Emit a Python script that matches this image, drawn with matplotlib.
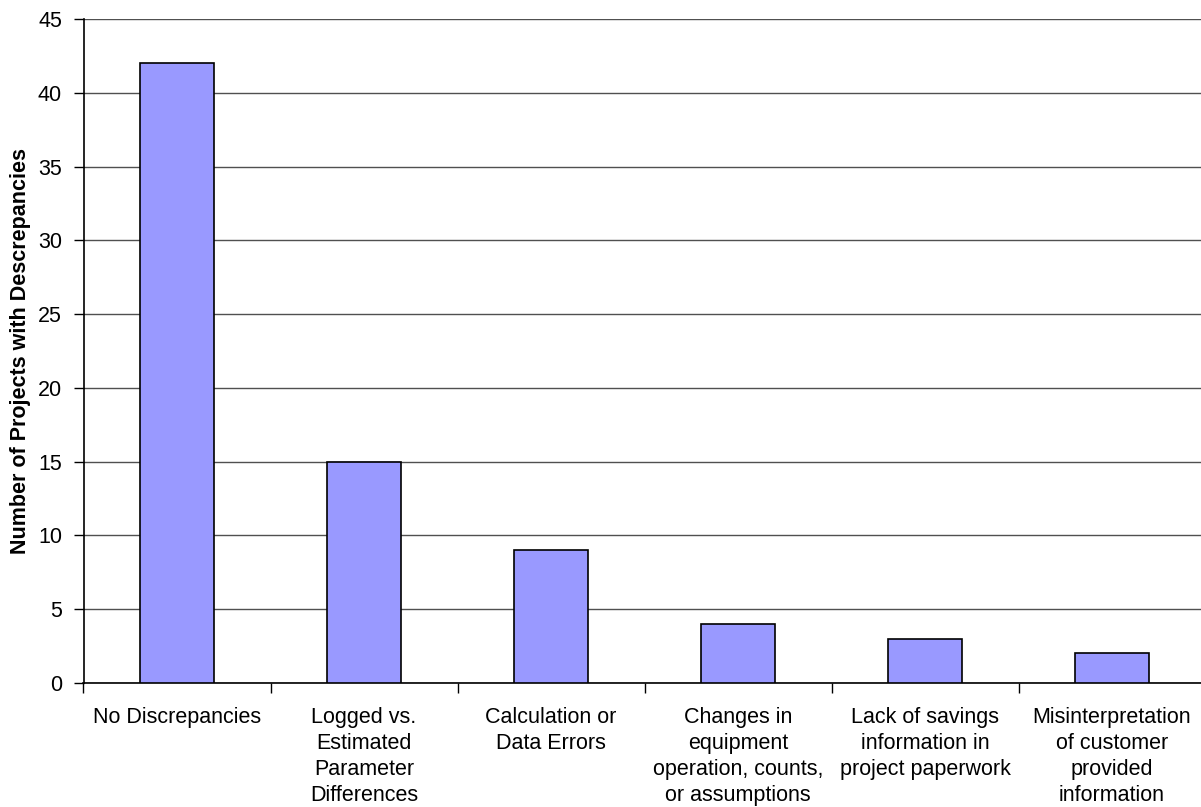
import numpy as np
import matplotlib
matplotlib.use("Agg")
import matplotlib.pyplot as plt

plt.rcParams["font.family"] = ["Liberation Sans", "DejaVu Sans"]

categories = [
    "No Discrepancies",
    "Logged vs.\nEstimated\nParameter\nDifferences",
    "Calculation or\nData Errors",
    "Changes in\nequipment\noperation, counts,\nor assumptions",
    "Lack of savings\ninformation in\nproject paperwork",
    "Misinterpretation\nof customer\nprovided\ninformation",
]
counts = [42, 15, 9, 4, 3, 2]
y_ticks = [0, 5, 10, 15, 20, 25, 30, 35, 40, 45]

fig = plt.figure(figsize=(12.01, 8.07), dpi=100)
ax = fig.add_axes([83.5 / 1201, 124 / 807, 1122 / 1201, 664 / 807])

x = np.arange(len(categories))
ax.bar(x, counts, width=0.4, color="#9999FF", edgecolor="black", linewidth=1.2, zorder=3)

ax.set_xlim(-0.5, len(categories) - 0.5)
ax.set_ylim(0, 45)
ax.set_yticks(y_ticks)
ax.yaxis.grid(True, color="#505050", linewidth=1.0, zorder=0)

# category labels centred, tick marks on the boundaries
ax.set_xticks(x)
ax.set_xticklabels(categories, fontsize=15.5, linespacing=1.32, va="top")
ax.tick_params(axis="x", which="major", length=0, pad=17)
ax.set_xticks(np.arange(len(categories) + 1) - 0.5, minor=True)
ax.tick_params(axis="x", which="minor", length=7, width=1, color="black", direction="out")
ax.tick_params(axis="y", length=7, width=1, pad=8.5, labelsize=15.5, direction="out")

for side in ("top", "right"):
    ax.spines[side].set_visible(False)
ax.spines["left"].set_linewidth(1.2)
ax.spines["bottom"].set_linewidth(1.2)

ax.set_ylabel("Number of Projects with Descrepancies", fontsize=15.5, fontweight="bold", labelpad=5)

fig.savefig("out.png", dpi=100)
